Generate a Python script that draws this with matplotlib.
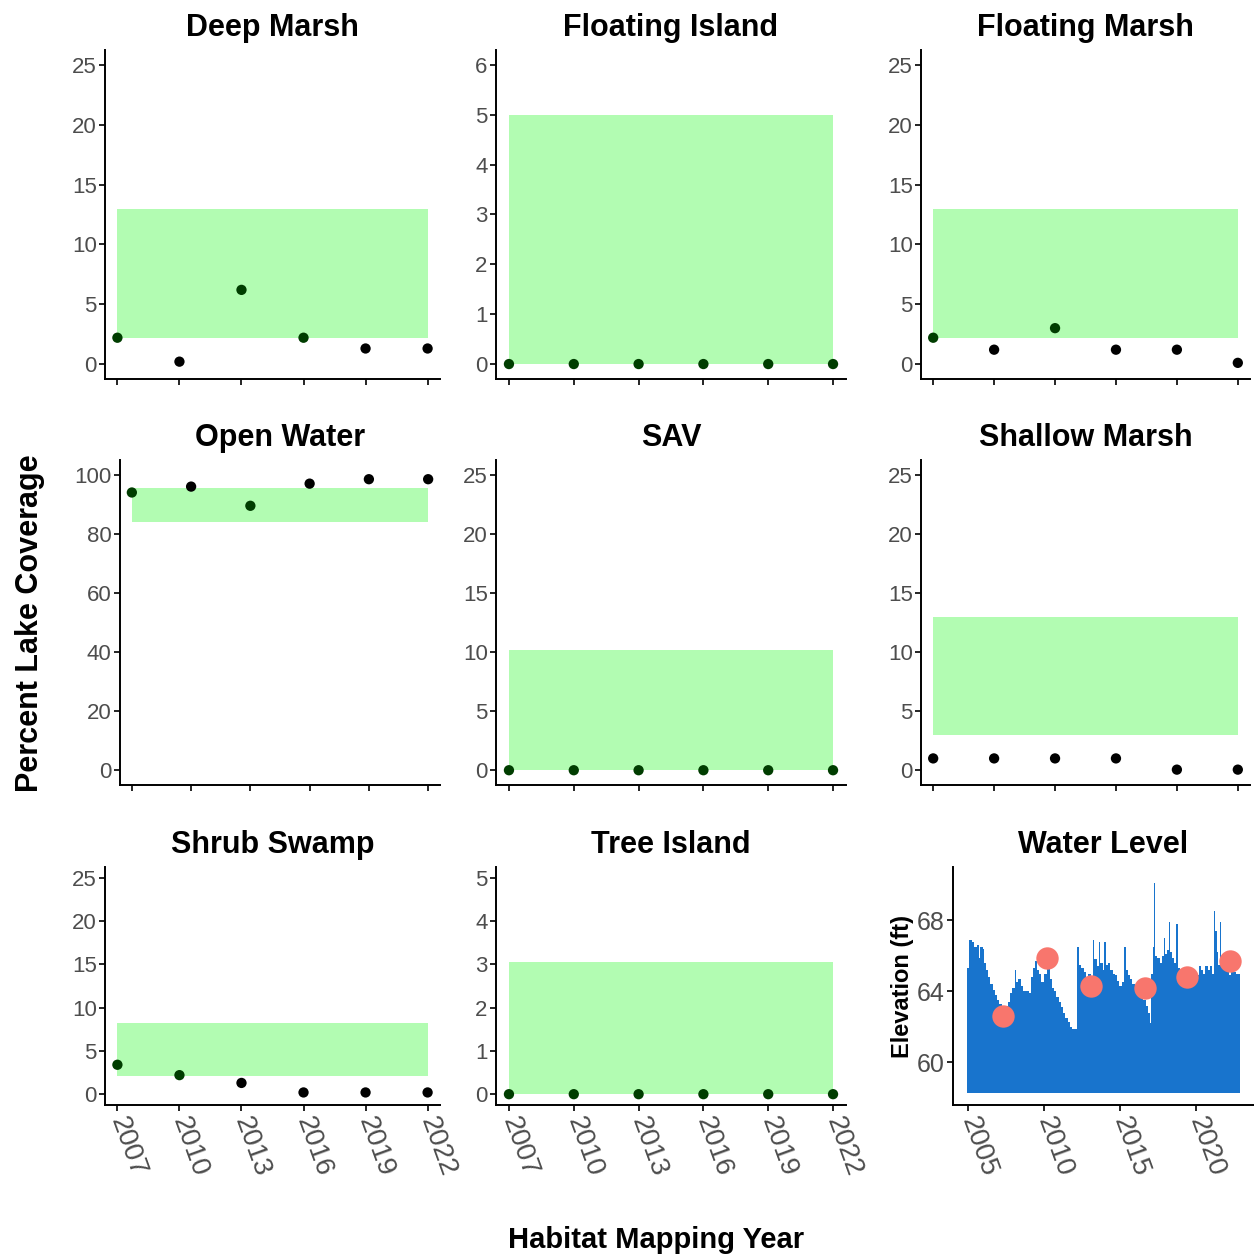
import matplotlib
matplotlib.use("Agg")
import matplotlib.pyplot as plt
from matplotlib.patches import Rectangle

plt.rcParams['font.family'] = ['Liberation Sans', 'DejaVu Sans']

# habitat mapping years
years = [2007, 2010, 2013, 2016, 2019, 2022]
year_labels = ['2007', '2010', '2013', '2016', '2019', '2022']

# percent lake coverage per habitat, with target range (low, high)
deep_marsh = [2.2, 0.2, 6.2, 2.2, 1.3, 1.3]
deep_marsh_range = (2.2, 13.0)
floating_island = [0, 0, 0, 0, 0, 0]
floating_island_range = (0, 5.0)
floating_marsh = [2.2, 1.2, 3.0, 1.2, 1.2, 0.1]
floating_marsh_range = (2.2, 13.0)
open_water = [94.0, 96.0, 89.5, 97.0, 98.5, 98.5]
open_water_range = (84.0, 95.5)
sav = [0, 0, 0, 0, 0, 0]
sav_range = (0, 10.2)
shallow_marsh = [1.0, 1.0, 1.0, 1.0, 0.05, 0.05]
shallow_marsh_range = (3.0, 13.0)
shrub_swamp = [3.4, 2.2, 1.3, 0.2, 0.2, 0.2]
shrub_swamp_range = (2.1, 8.2)
tree_island = [0, 0, 0, 0, 0, 0]
tree_island_range = (0, 3.05)

# lake water level (step series) and the levels at each mapping survey
wl_year = [2004.95, 2005.05, 2005.25, 2005.4, 2005.6, 2005.7, 2005.78, 2005.95,
           2006.05, 2006.15, 2006.3, 2006.45, 2006.6, 2006.75, 2006.9, 2007.05,
           2007.2, 2007.4, 2007.6, 2007.75, 2007.9, 2008.05, 2008.12, 2008.3,
           2008.45, 2008.6, 2008.8, 2009.0, 2009.15, 2009.25, 2009.4, 2009.5,
           2009.65, 2009.8, 2010.0, 2010.2, 2010.35, 2010.5, 2010.65, 2010.8,
           2010.95, 2011.1, 2011.25, 2011.4, 2011.55, 2011.7, 2011.85, 2012.05,
           2012.15, 2012.3, 2012.45, 2012.6, 2012.75, 2012.9, 2013.05, 2013.2,
           2013.28, 2013.45, 2013.6, 2013.68, 2013.85, 2013.95, 2014.05, 2014.2,
           2014.35, 2014.5, 2014.65, 2014.8, 2014.95, 2015.1, 2015.25, 2015.35,
           2015.5, 2015.65, 2015.8, 2015.95, 2016.1, 2016.3, 2016.5, 2016.7,
           2016.85, 2016.95, 2017.05, 2017.15, 2017.25, 2017.3, 2017.45, 2017.6,
           2017.75, 2017.85, 2017.95, 2018.1, 2018.2, 2018.27, 2018.4, 2018.55,
           2018.7, 2018.78, 2018.9, 2019.05, 2019.2, 2019.4, 2019.6, 2019.8,
           2020.0, 2020.15, 2020.3, 2020.45, 2020.6, 2020.75, 2020.9, 2021.05,
           2021.15, 2021.25, 2021.35, 2021.45, 2021.55, 2021.65, 2021.8, 2022.0,
           2022.15, 2022.3, 2022.45, 2022.6, 2022.85]
wl_elev = [65.3, 66.9, 66.8, 66.5, 66.6, 65.9, 66.5, 66.4,
           65.6, 65.2, 64.8, 64.4, 64.1, 63.8, 63.5, 63.3,
           63.1, 63.2, 63.4, 63.9, 64.2, 65.2, 64.5, 64.7,
           64.3, 64.0, 64.0, 63.9, 64.8, 65.3, 65.7, 65.2,
           65.0, 64.5, 65.0, 65.3, 64.7, 64.2, 64.0, 63.7,
           63.4, 63.1, 62.8, 62.5, 62.3, 62.0, 61.9, 61.9,
           66.5, 65.5, 65.3, 65.1, 64.8, 65.0, 64.6, 66.9,
           65.8, 65.4, 66.8, 65.6, 65.2, 66.8, 65.5, 65.6,
           65.2, 65.0, 64.9, 64.6, 64.3, 64.5, 66.5, 65.2,
           64.9, 64.7, 64.4, 64.2, 64.0, 63.8, 63.5, 63.2,
           62.8, 62.2, 65.0, 66.5, 70.1, 66.0, 65.9, 65.6,
           66.0, 67.0, 66.1, 66.3, 67.9, 66.2, 65.9, 65.6,
           67.8, 65.3, 64.8, 64.6, 64.4, 64.7, 64.9, 65.0,
           64.9, 65.4, 65.2, 65.0, 65.4, 65.2, 65.4, 65.0,
           68.5, 67.4, 66.2, 65.5, 67.9, 65.9, 65.6, 65.2,
           64.9, 65.3, 65.1, 65.0, 65.0]
wl_base = 58.3
survey_year = [2007.3, 2010.2, 2013.1, 2016.6, 2019.4, 2022.2]
survey_elev = [62.6, 65.9, 64.3, 64.2, 64.8, 65.7]

W, H = 1254, 1260
fig = plt.figure(figsize=(W / 100, H / 100), dpi=100)
fig.patch.set_facecolor('white')

TICK_GRAY = '#4D4D4D'
RECT_GREEN = '#b2fcb2'
IN_GREEN = '#003d00'


def px_axes(left, top, right, bottom):
    return fig.add_axes([left / W, 1 - bottom / H, (right - left) / W, (bottom - top) / H])


def style(ax, ylab_size=16):
    for s in ['top', 'right']:
        ax.spines[s].set_visible(False)
    for s in ['left', 'bottom']:
        ax.spines[s].set_linewidth(1.4)
        ax.spines[s].set_color('black')
    ax.tick_params(axis='both', length=4, width=1.2, color='black',
                   labelcolor=TICK_GRAY, labelsize=ylab_size)
    ax.tick_params(axis='y', pad=2)


def habitat_panel(ax, title, values, rng, ymax, yticks, show_xlabels):
    lo, hi = rng
    ax.add_patch(Rectangle((years[0], lo), years[-1] - years[0], hi - lo,
                           facecolor=RECT_GREEN, edgecolor='none', zorder=1))
    colors = [IN_GREEN if lo <= v <= hi else 'black' for v in values]
    ax.scatter(years, values, s=55, c=colors, zorder=3, linewidths=0)
    pad = ymax * 0.05
    ax.set_ylim(-pad, ymax + pad)
    ax.set_xlim(2006.4, 2022.6)
    ax.set_yticks(yticks)
    ax.set_xticks(years)
    style(ax)
    if show_xlabels:
        ax.set_xticklabels(year_labels, rotation=-70, ha='left', va='center',
                           rotation_mode='anchor', fontsize=20)
        ax.tick_params(axis='x', pad=5)
    else:
        ax.set_xticklabels([])
    ax.set_title(title, fontsize=22, fontweight='bold', pad=10)


t25 = [0, 5, 10, 15, 20, 25]

ax = px_axes(105, 50, 440, 379)
habitat_panel(ax, 'Deep Marsh', deep_marsh, deep_marsh_range, 25, t25, False)
ax = px_axes(496, 50, 846, 379)
habitat_panel(ax, 'Floating Island', floating_island, floating_island_range, 6,
              [0, 1, 2, 3, 4, 5, 6], False)
ax = px_axes(921, 50, 1250, 379)
habitat_panel(ax, 'Floating Marsh', floating_marsh, floating_marsh_range, 25, t25, False)

ax = px_axes(120, 460, 440, 785)
habitat_panel(ax, 'Open Water', open_water, open_water_range, 100,
              [0, 20, 40, 60, 80, 100], False)
ax = px_axes(496, 460, 846, 785)
habitat_panel(ax, 'SAV', sav, sav_range, 25, t25, False)
ax = px_axes(921, 460, 1250, 785)
habitat_panel(ax, 'Shallow Marsh', shallow_marsh, shallow_marsh_range, 25, t25, False)

ax = px_axes(105, 867, 440, 1105)
habitat_panel(ax, 'Shrub Swamp', shrub_swamp, shrub_swamp_range, 25, t25, True)
ax = px_axes(496, 867, 846, 1105)
habitat_panel(ax, 'Tree Island', tree_island, tree_island_range, 5,
              [0, 1, 2, 3, 4, 5], True)

# water level panel
ax = px_axes(953, 867, 1254, 1105)
ax.fill_between(wl_year, wl_base, wl_elev, step='post', color='#1874CD', lw=0, zorder=1)
ax.scatter(survey_year, survey_elev, s=260, color='#F8766D', zorder=3, linewidths=0)
ax.set_xlim(2004.0, 2023.8)
ax.set_ylim(57.6, 71.0)
ax.set_yticks([60, 64, 68])
ax.set_xticks([2005, 2010, 2015, 2020])
style(ax, ylab_size=18)
ax.set_xticklabels(['2005', '2010', '2015', '2020'], rotation=-70, ha='left',
                   va='center', rotation_mode='anchor', fontsize=20)
ax.tick_params(axis='x', pad=5)
ax.set_ylabel('Elevation (ft)', fontsize=17, fontweight='bold', labelpad=2)
ax.set_title('Water Level', fontsize=22, fontweight='bold', pad=10)

fig.text(30 / W, 1 - 623 / H, 'Percent Lake Coverage', rotation=90, fontsize=22,
         fontweight='bold', ha='center', va='center')
fig.text(656 / W, 1 - 1240 / H, 'Habitat Mapping Year', fontsize=21,
         fontweight='bold', ha='center', va='center')

fig.savefig('out.png', dpi=100, facecolor='white')
